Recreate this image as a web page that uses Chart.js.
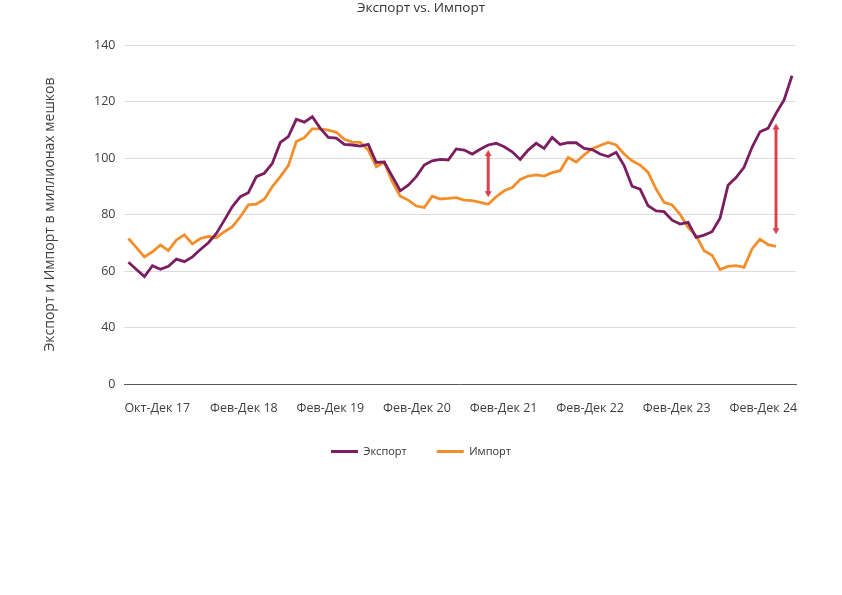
<!DOCTYPE html>
<html>
<head>
<meta charset="utf-8">
<script src="https://cdn.jsdelivr.net/npm/chart.js@4.4.1/dist/chart.umd.min.js"></script>
<style>
  html, body { margin: 0; padding: 0; background: #fff; }
  #wrap { width: 842px; height: 595px; }
</style>
</head>
<body>
<div id="wrap"><canvas id="tradeChart"></canvas></div>
<script>
// Экспорт vs. Импорт - monthly values, millions of bags

const exportValues = [
  63.1, 60.5, 58.0, 61.9, 60.6, 61.7, 64.2, 63.3, 65.0, 67.6,
  70.0, 73.3, 78.0, 82.8, 86.3, 87.7, 93.4, 94.6, 98.1, 105.5,
  107.6, 113.7, 112.7, 114.6, 110.5, 107.3, 107.0, 104.8, 104.6, 104.2,
  104.8, 98.4, 98.6, 93.5, 88.4, 90.4, 93.4, 97.5, 99.0, 99.5,
  99.3, 103.2, 102.8, 101.4, 103.1, 104.6, 105.2, 104.0, 102.2, 99.5,
  102.8, 105.2, 103.4, 107.3, 104.8, 105.4, 105.4, 103.4, 103.0, 101.4,
  100.5, 102.0, 97.3, 90.0, 89.0, 83.1, 81.3, 81.0, 78.0, 76.6,
  77.2, 71.9, 72.7, 73.9, 78.7, 90.4, 93.1, 96.7, 103.8, 109.3,
  110.5, 115.8, 120.5, 129.1
];
const importValues = [
  71.5, 68.3, 65.0, 66.8, 69.2, 67.2, 71.0, 72.8, 69.6, 71.5,
  72.2, 71.8, 73.9, 75.7, 79.2, 83.4, 83.7, 85.4, 89.9, 93.4,
  97.3, 105.8, 107.2, 110.3, 110.3, 109.9, 109.1, 106.6, 105.6, 105.5,
  102.8, 96.9, 98.5, 91.6, 86.5, 85.1, 83.0, 82.5, 86.5, 85.5,
  85.7, 86.0, 85.1, 84.9, 84.3, 83.6, 86.3, 88.4, 89.5, 92.4,
  93.6, 94.0, 93.6, 94.8, 95.5, 100.2, 98.6, 101.1, 103.3, 104.4,
  105.5, 104.6, 101.4, 99.0, 97.5, 94.9, 89.0, 84.3, 83.4, 80.1,
  75.4, 72.5, 67.2, 65.6, 60.5, 61.6, 61.9, 61.3, 67.8, 71.3,
  69.3, 68.7
];
const tickLabels = ['Окт-Дек 17', 'Фев-Дек 18', 'Фев-Дек 19', 'Фев-Дек 20',
                    'Фев-Дек 21', 'Фев-Дек 22', 'Фев-Дек 23', 'Фев-Дек 24'];
const yTickText = ['0', '40', '60', '80', '100', '120', '140'];

// red gap arrows: month index, lower and upper end
const arrowAt = [45, 81];
const arrowLow = [86.1, 73.0];
const arrowHigh = [102.8, 112.2];

const FONT = 'Open Sans';
const EXPORT_COLOR = '#7B1E61';
const IMPORT_COLOR = '#F28E2C';

const gapArrows = {
  id: 'gapArrows',
  afterDatasetsDraw(chart) {
    const { ctx, scales: { x, y } } = chart;
    ctx.save();
    ctx.strokeStyle = '#D8434E';
    ctx.fillStyle = '#D8434E';
    ctx.lineWidth = 3;
    arrowAt.forEach((at, k) => {
      const px = x.getPixelForValue(at);
      const top = y.getPixelForValue(arrowHigh[k]);
      const bottom = y.getPixelForValue(arrowLow[k]);
      ctx.beginPath();
      ctx.moveTo(px, top + 4);
      ctx.lineTo(px, bottom - 4);
      ctx.stroke();
      ctx.beginPath();
      ctx.moveTo(px, top);
      ctx.lineTo(px - 3.5, top + 6);
      ctx.lineTo(px + 3.5, top + 6);
      ctx.closePath();
      ctx.fill();
      ctx.beginPath();
      ctx.moveTo(px, bottom);
      ctx.lineTo(px - 3.5, bottom - 6);
      ctx.lineTo(px + 3.5, bottom - 6);
      ctx.closePath();
      ctx.fill();
    });
    ctx.restore();
  }
};

// legend sits closer to the axis labels than its item padding would allow
const liftLegend = {
  id: 'liftLegend',
  afterLayout(chart) {
    chart.legend.top -= 17;
    chart.legend.bottom -= 17;
  }
};

const ctx = document.getElementById('tradeChart').getContext('2d');
new Chart(ctx, {
  type: 'line',
  data: {
    datasets: [{
      label: 'Экспорт',
      data: exportValues.map((v, i) => ({ x: i, y: v })),
      borderColor: EXPORT_COLOR,
      backgroundColor: EXPORT_COLOR,
      borderWidth: 2.8,
      pointRadius: 0,
      tension: 0
    }, {
      label: 'Импорт',
      data: importValues.map((v, i) => ({ x: i, y: v })),
      borderColor: IMPORT_COLOR,
      backgroundColor: IMPORT_COLOR,
      borderWidth: 2.8,
      pointRadius: 0,
      tension: 0
    }]
  },
  options: {
    responsive: true,
    maintainAspectRatio: false,
    animation: false,
    layout: { padding: { left: 46, right: 46, top: 0, bottom: 111 } },
    plugins: {
      title: {
        display: true,
        text: 'Экспорт vs. Импорт',
        color: '#333',
        font: { family: FONT, size: 13.5, weight: 'normal' },
        padding: { top: 0, bottom: 28.8 }
      },
      legend: {
        position: 'bottom',
        labels: {
          color: '#333',
          font: { family: FONT, size: 11 },
          boxWidth: 27,
          boxHeight: 3,
          padding: 30,
          generateLabels(chart) {
            return Chart.defaults.plugins.legend.labels.generateLabels(chart)
              .map(item => ({ ...item, lineWidth: 0 }));
          }
        }
      },
      tooltip: { enabled: false }
    },
    scales: {
      x: {
        type: 'linear',
        min: -0.5,
        max: 83.5,
        afterBuildTicks(scale) {
          scale.ticks = tickLabels.map((_, k) => ({ value: 3.6 + k * 10.83 }));
        },
        ticks: {
          autoSkip: false,
          maxRotation: 0,
          padding: 17,
          color: '#404040',
          font: { family: FONT, size: 12.5 },
          callback: (value, index) => tickLabels[index]
        },
        grid: { display: false, drawTicks: false },
        border: { display: true, color: '#595959', width: 1 }
      },
      y: {
        min: 20,
        max: 140,
        ticks: {
          stepSize: 20,
          padding: 9,
          color: '#404040',
          font: { family: FONT, size: 12.5 },
          callback: (value, index) => yTickText[index]
        },
        grid: { color: '#DCDCDC', lineWidth: 1, drawTicks: false },
        border: { display: false },
        title: {
          display: true,
          text: 'Экспорт и Импорт в миллионах мешков',
          color: '#404040',
          font: { family: FONT, size: 14 },
          padding: { top: -4.4, bottom: 26.6 }
        }
      }
    }
  },
  plugins: [gapArrows, liftLegend]
});
</script>
</body>
</html>
